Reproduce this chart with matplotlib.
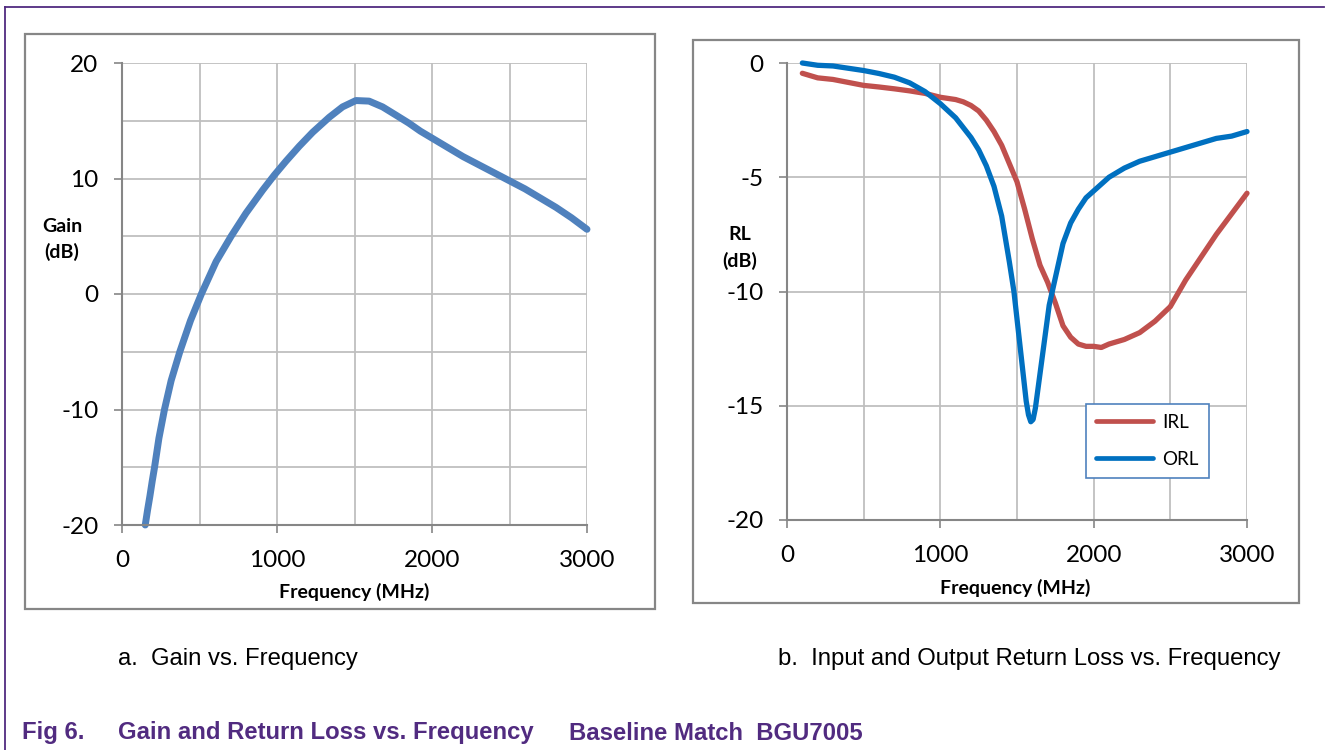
import matplotlib
matplotlib.use("Agg")
import matplotlib.pyplot as plt
from matplotlib.lines import Line2D
from matplotlib.patches import Rectangle
from matplotlib.ticker import MultipleLocator

plt.rcParams["axes.unicode_minus"] = False

W, H = 1325, 750

# Gain vs frequency (left panel)
gain_freq = [150, 165, 180, 195, 210, 238, 274, 317, 373, 442, 512, 607, 704, 800, 908,
             983, 1058, 1144, 1230, 1337, 1423, 1509, 1594, 1681, 1766, 1850, 1925,
             2000, 2100, 2200, 2300, 2400, 2500, 2600, 2700, 2800, 2900, 3000]
gain_db = [-20, -18.7, -17.5, -16.2, -15, -12.5, -10, -7.5, -5, -2.3, 0, 2.8, 5, 7, 9.0,
           10.3, 11.5, 12.8, 14.0, 15.3, 16.2, 16.75, 16.7, 16.2, 15.5, 14.8, 14.1,
           13.5, 12.7, 11.9, 11.2, 10.5, 9.8, 9.1, 8.3, 7.5, 6.6, 5.6]

# Input return loss (right panel, red)
irl_freq = [100, 150, 200, 300, 400, 500, 600, 700, 800, 900, 1000, 1100, 1150, 1200,
            1250, 1300, 1350, 1400, 1450, 1500, 1550, 1600, 1650, 1700, 1750, 1800,
            1850, 1900, 1950, 2000, 2050, 2100, 2200, 2300, 2400, 2500, 2600, 2700,
            2800, 2900, 3000]
irl_db = [-0.45, -0.55, -0.65, -0.72, -0.85, -0.98, -1.05, -1.13, -1.22, -1.33, -1.5,
          -1.6, -1.7, -1.86, -2.1, -2.5, -3.0, -3.6, -4.4, -5.2, -6.4, -7.7, -8.85,
          -9.6, -10.5, -11.5, -12.0, -12.3, -12.4, -12.4, -12.45, -12.3, -12.1, -11.8,
          -11.3, -10.66, -9.5, -8.5, -7.5, -6.6, -5.7]

# Output return loss (right panel, blue)
orl_freq = [100, 200, 300, 400, 500, 600, 700, 800, 900, 1000, 1100, 1200, 1250, 1300,
            1350, 1400, 1450, 1480, 1500, 1530, 1560, 1575, 1590, 1605, 1620, 1650,
            1680, 1710, 1750, 1800, 1850, 1900, 1950, 2000, 2100, 2200, 2300, 2400,
            2500, 2600, 2700, 2800, 2900, 3000]
orl_db = [0, -0.1, -0.13, -0.23, -0.33, -0.46, -0.62, -0.87, -1.25, -1.78, -2.4, -3.26,
          -3.8, -4.5, -5.4, -6.7, -8.7, -10.0, -11.2, -13.0, -14.8, -15.4, -15.7, -15.6,
          -15.1, -13.6, -12.1, -10.6, -9.4, -7.9, -7.0, -6.4, -5.9, -5.6, -5.0, -4.6,
          -4.3, -4.1, -3.9, -3.7, -3.5, -3.3, -3.2, -3.0]

TICK_FONT = "Lato"
GRID = "#BFBFBF"
SPINE = "#868686"
PURPLE = "#512B80"


def fx(x):
    return x / W


def fy(y):
    return 1 - y / H


def style_axes(ax, ymajor):
    ax.set_xlim(0, 3000)
    ax.xaxis.set_major_locator(MultipleLocator(1000))
    ax.xaxis.set_minor_locator(MultipleLocator(500))
    ax.yaxis.set_major_locator(MultipleLocator(ymajor))
    ax.yaxis.set_minor_locator(MultipleLocator(5))
    ax.grid(True, which="both", color=GRID, lw=1.3)
    ax.set_axisbelow(True)
    for s in ("top", "right"):
        ax.spines[s].set_visible(False)
    for s in ("left", "bottom"):
        ax.spines[s].set_color(SPINE)
        ax.spines[s].set_linewidth(1.5)
    ax.tick_params(which="major", direction="out", length=6, width=1.2, color=SPINE,
                   labelsize=17.5)
    ax.tick_params(axis="x", which="major", pad=12)
    ax.tick_params(axis="y", which="major", pad=11)
    ax.tick_params(which="minor", length=0)
    for lab in ax.get_xticklabels() + ax.get_yticklabels():
        lab.set_fontfamily(TICK_FONT)


fig = plt.figure(figsize=(W / 100, H / 100), dpi=100)

# outer frame and panel boxes
fig.add_artist(Line2D([fx(5), fx(1324)], [fy(7), fy(7)], color=PURPLE, lw=1.3))
fig.add_artist(Line2D([fx(5), fx(5)], [fy(7), fy(750)], color=PURPLE, lw=1.3))
fig.add_artist(Rectangle((fx(25), fy(609)), (655 - 25) / W, (609 - 34) / H,
                         transform=fig.transFigure, fill=False, ec=SPINE, lw=1.6))
fig.add_artist(Rectangle((fx(693), fy(603)), (1299 - 693) / W, (603 - 40) / H,
                         transform=fig.transFigure, fill=False, ec=SPINE, lw=1.6))

# left: gain
ax1 = fig.add_axes([fx(122), fy(525), (587 - 122) / W, (525 - 63) / H])
ax1.plot(gain_freq, gain_db, color="#4F81BD", lw=5, solid_capstyle="round",
         solid_joinstyle="round", clip_on=False)
ax1.set_ylim(-20, 20)
style_axes(ax1, 10)

# right: return loss
ax2 = fig.add_axes([fx(787), fy(520), (1247 - 787) / W, (520 - 63) / H])
ax2.plot(irl_freq, irl_db, color="#C0504D", lw=3.8, solid_capstyle="round",
         solid_joinstyle="round", label="IRL", clip_on=False)
ax2.plot(orl_freq, orl_db, color="#0070C0", lw=3.8, solid_capstyle="round",
         solid_joinstyle="round", label="ORL", clip_on=False)
ax2.set_ylim(-20, 0)
style_axes(ax2, 5)
leg = ax2.legend(loc="lower left", bbox_to_anchor=(0.65, 0.092), borderaxespad=0,
                 fancybox=False, edgecolor="#4F81BD", framealpha=1,
                 handlelength=3.0, labelspacing=1.05, borderpad=0.55,
                 handletextpad=0.5, prop={"family": TICK_FONT, "size": 13.5})
leg.get_frame().set_linewidth(1.2)
for h in leg.get_lines():
    h.set_linewidth(3.4)

# axis titles
lab_kw = dict(fontfamily=TICK_FONT, fontweight="bold", fontsize=14,
              ha="center", va="center", color="black")
fig.text(fx(62), fy(227), "Gain", **lab_kw)
fig.text(fx(62), fy(252), "(dB)", **lab_kw)
fig.text(fx(740), fy(235), "RL", **lab_kw)
fig.text(fx(740), fy(261), "(dB)", **lab_kw)
fig.text(fx(354), fy(592), "Frequency (MHz)", **lab_kw)
fig.text(fx(1015), fy(588), "Frequency (MHz)", **lab_kw)

# captions
cap_kw = dict(fontfamily="Liberation Sans", fontsize=17.2, va="center", color="black")
fig.text(fx(118), fy(659), "a.  Gain vs. Frequency", **cap_kw)
fig.text(fx(778), fy(659), "b.  Input and Output Return Loss vs. Frequency", **cap_kw)

ttl_kw = dict(fontfamily="Liberation Sans", fontweight="bold", fontsize=17.2,
              va="center", color=PURPLE)
fig.text(fx(22), fy(733), "Fig 6.", **ttl_kw)
fig.text(fx(118), fy(733), "Gain and Return Loss vs. Frequency", **ttl_kw)
fig.text(fx(569), fy(733), "Baseline Match  BGU7005", **ttl_kw)

fig.savefig("out.png", dpi=100)
